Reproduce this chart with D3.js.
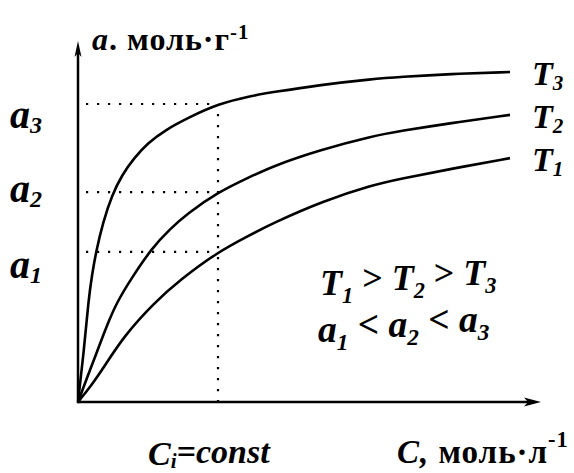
<!DOCTYPE html>
<html>
<head>
<meta charset="utf-8">
<script src="https://cdn.jsdelivr.net/npm/d3@7"></script>
<style>
  body { margin: 0; background: #fff; }
  svg { display: block; }
  text { font-family: "Liberation Serif", "Tinos", "Times New Roman", "DejaVu Serif", serif; font-weight: bold; fill: #000; }
</style>
</head>
<body>
<svg id="chart" width="574" height="473"></svg>
<script>
// Adsorption isotherms a(C) at three temperatures (relative units, 0..100)
const isothermT3 = [[0,0],[1.39,15.8],[2.43,30.9],[3.24,38.5],[4.17,45.5],[5.79,54.5],[7.87,62.7],[10.19,68.8],
  [12.96,73.9],[16.2,78.5],[20.14,82.4],[25.93,86.4],[32.41,90.3],[39.81,92.7],[45.14,93.9],[56.02,96.1],
  [68.29,97.9],[74.54,98.5],[86.11,99.4],[100,100]];
const isothermT2 = [[0,0],[2.08,7.3],[4.4,15.2],[6.71,23.3],[9.03,30.3],[12.27,37.3],[17.13,46.7],[21.3,52.4],
  [25.23,57.0],[32.41,63.6],[39.81,68.2],[45.14,71.5],[56.02,76.4],[68.29,80.6],[74.54,82.1],[86.11,84.5],[100,87.0]];
const isothermT1 = [[0,0],[3.01,4.85],[6.02,10.6],[10.65,20.0],[17.59,30.0],[23.61,37.0],[32.41,45.5],[39.81,50.6],
  [45.14,54.2],[56.71,60.9],[68.29,65.8],[74.54,67.6],[86.11,70.6],[100,73.9]];
const seriesNames = ["3", "2", "1"];          // subscripts of T for each curve
const ciValue = 32.41;                         // the fixed concentration C_i
const levelNames = ["1", "2", "3"];            // a1, a2, a3
const levelValues = [45.5, 63.6, 90.3];        // a at C_i on T1, T2, T3

const svg = d3.select("#chart");
const x = d3.scaleLinear().domain([0, 100]).range([78, 510]);
const y = d3.scaleLinear().domain([0, 100]).range([402, 72]);

// Axes with arrowheads
const axisEndX = 541, axisEndY = 41;
svg.append("line").attr("x1", x(0)).attr("y1", y(0)).attr("x2", axisEndX - 10).attr("y2", y(0))
  .attr("stroke", "#000").attr("stroke-width", 2.5);
svg.append("line").attr("x1", x(0)).attr("y1", y(0) + 1.2).attr("x2", x(0)).attr("y2", axisEndY + 10)
  .attr("stroke", "#000").attr("stroke-width", 2.5);
svg.append("path")
  .attr("d", `M${axisEndX},${y(0)} L${axisEndX - 17},${y(0) - 4.5} L${axisEndX - 13},${y(0)} L${axisEndX - 17},${y(0) + 4.5} Z`)
  .attr("fill", "#000");
svg.append("path")
  .attr("d", `M${x(0)},${axisEndY} L${x(0) - 3.5},${axisEndY + 16} L${x(0)},${axisEndY + 12} L${x(0) + 3.5},${axisEndY + 16} Z`)
  .attr("fill", "#000");

// Dotted guides at C_i
const dotted = svg.append("g").attr("stroke", "#000").attr("stroke-width", 2.2)
  .attr("stroke-dasharray", "2.2,8.8").attr("fill", "none");
dotted.append("line").attr("x1", x(ciValue)).attr("x2", x(ciValue))
  .attr("y1", y(levelValues[2]) + 10).attr("y2", y(0));
levelValues.forEach(v => {
  dotted.append("line").attr("x1", x(0) + 8).attr("x2", x(ciValue)).attr("y1", y(v)).attr("y2", y(v));
});

// Isotherm curves
const line = d3.line().x(d => x(d[0])).y(d => y(d[1])).curve(d3.curveBasis);
[isothermT3, isothermT2, isothermT1].forEach((s, i) => {
  svg.append("path").datum(s).attr("d", line)
    .attr("fill", "none").attr("stroke", "#000").attr("stroke-width", 2.6).attr("stroke-linejoin", "round");
  const last = s[s.length - 1];
  const t = svg.append("text").attr("x", x(last[0]) + 22).attr("y", y(last[1]) + 13)
    .attr("font-size", 34).attr("font-style", "italic");
  t.append("tspan").text("T");
  t.append("tspan").attr("font-size", "0.62em").attr("dy", "0.25em").text(seriesNames[i]);
});

// Level labels a1, a2, a3 on the left
const levelOffsets = [26, 10, 24];
levelValues.forEach((v, i) => {
  const t = svg.append("text").attr("x", 10).attr("y", y(v) + levelOffsets[i])
    .attr("font-size", 40).attr("font-style", "italic");
  t.append("tspan").text("a");
  t.append("tspan").attr("font-size", "0.6em").attr("dy", "0.22em").text(levelNames[i]);
});

// Italic symbol with subscript, followed by upright text
function symbolRun(textSel, parts) {
  parts.forEach(p => {
    textSel.append("tspan").attr("font-style", "italic").text(p.sym);
    textSel.append("tspan").attr("font-style", "italic").attr("font-size", "0.62em").attr("dy", "0.36em").text(p.sub);
    if (p.after) textSel.append("tspan").attr("dy", "-0.36em").text(p.after);
  });
}

// Inequalities
const ineq1 = svg.append("text").attr("x", 320).attr("y", 295).attr("font-size", 36);
symbolRun(ineq1, [{sym: "T", sub: "1", after: " > "}, {sym: "T", sub: "2", after: " > "}, {sym: "T", sub: "3"}]);
const ineq2 = svg.append("text").attr("x", 318).attr("y", 342).attr("font-size", 37.5);
symbolRun(ineq2, [{sym: "a", sub: "1", after: " < "}, {sym: "a", sub: "2", after: " < "}, {sym: "a", sub: "3"}]);

// Axis titles
const yTitle = svg.append("text").attr("x", 92).attr("y", 50).attr("font-size", 32).attr("letter-spacing", 1);
yTitle.append("tspan").attr("font-style", "italic").text("a");
yTitle.append("tspan").text(". моль·г");
yTitle.append("tspan").attr("font-size", "0.65em").attr("dy", "-0.52em").text("-1");

const xTitle = svg.append("text").attr("x", 397).attr("y", 463).attr("font-size", 33).attr("letter-spacing", 1);
xTitle.append("tspan").attr("font-style", "italic").text("C,");
xTitle.append("tspan").text(" моль·л");
xTitle.append("tspan").attr("font-size", "0.68em").attr("dy", "-0.7em").text("-1");

const ciTitle = svg.append("text").attr("x", 148).attr("y", 465).attr("font-size", 34).attr("font-style", "italic");
ciTitle.append("tspan").text("C");
ciTitle.append("tspan").attr("font-size", "0.62em").attr("dy", "0.15em").text("i");
ciTitle.append("tspan").attr("dy", "-0.15em").text("=const");
</script>
</body>
</html>
